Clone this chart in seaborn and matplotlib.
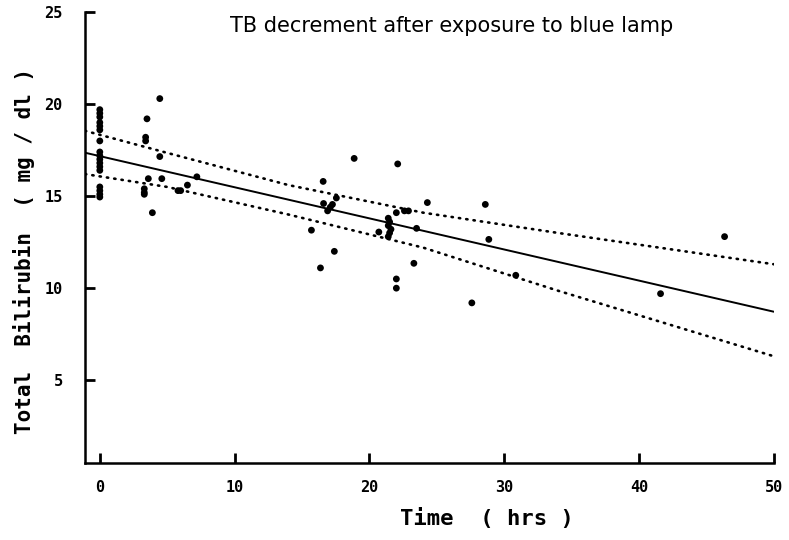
import pandas as pd
import matplotlib
matplotlib.use("Agg")
import matplotlib.pyplot as plt
import seaborn as sns

# points (time in hrs, TB in mg/dl)
time_hrs = [0, 0, 0, 0, 0, 0, 0, 0, 0, 0, 0, 0, 0, 0, 0, 0, 0,
            3.5, 3.4, 3.4, 3.6, 3.3, 3.3, 3.3, 3.9,
            4.45, 4.45, 4.6, 5.8, 6.0, 6.5, 7.2,
            15.7, 16.37, 16.57, 16.6, 16.9, 17.1, 17.26, 17.55, 17.4, 18.87,
            20.7, 21.4, 21.5, 21.4, 21.6, 21.5, 21.4,
            22.0, 22.1, 22.0, 22.0, 22.6, 22.9, 23.3, 23.5, 24.3,
            27.6, 28.6, 28.86, 30.86, 41.6, 46.35]
tb = [19.7, 19.5, 19.3, 19.0, 18.8, 18.6, 18.0, 17.4, 17.2, 17.0, 16.8, 16.6, 16.4, 15.5, 15.3, 15.1, 14.95,
      19.2, 18.2, 18.0, 15.95, 15.4, 15.2, 15.1, 14.1,
      20.3, 17.15, 15.95, 15.3, 15.3, 15.6, 16.05,
      13.15, 11.1, 15.8, 14.6, 14.2, 14.4, 14.55, 14.9, 12.0, 17.05,
      13.05, 13.8, 13.6, 13.4, 13.2, 13.0, 12.8,
      14.1, 16.75, 10.5, 10.0, 14.2, 14.2, 11.35, 13.25, 14.65,
      9.2, 14.55, 12.65, 10.7, 9.7, 12.8]

# regression line and its dotted confidence limits, as drawn in the figure
fit_x = [-1.1, 50]
fit_y = [17.36, 8.72]
band_x = [-1.1, 5, 14, 24, 34, 50]
band_upper = [18.55, 17.35, 15.6, 14.1, 13.0, 11.3]
band_lower = [16.2, 15.5, 14.0, 12.2, 9.86, 6.3]

x_ticks = [0, 10, 20, 30, 40, 50]
y_ticks = [5, 10, 15, 20, 25]

df = pd.DataFrame({"time": time_hrs, "tb": tb})
fit = pd.DataFrame({"time": fit_x, "tb": fit_y})
upper = pd.DataFrame({"time": band_x, "tb": band_upper})
lower = pd.DataFrame({"time": band_x, "tb": band_lower})

sns.set_style("ticks")
plt.rcParams["font.family"] = ["DejaVu Sans"]
plt.rcParams["text.color"] = "black"
plt.rcParams["axes.labelcolor"] = "black"
plt.rcParams["xtick.color"] = "black"
plt.rcParams["ytick.color"] = "black"

fig = plt.figure(figsize=(7.89, 5.40), dpi=100)
ax = fig.add_axes([0.1077, 0.1426, 0.873, 0.835])

sns.scatterplot(data=df, x="time", y="tb", ax=ax, color="black", s=24,
                edgecolor="none", zorder=3)
sns.lineplot(data=fit, x="time", y="tb", ax=ax, color="black", linewidth=1.4)
for band in (upper, lower):
    sns.lineplot(data=band, x="time", y="tb", ax=ax, color="black",
                 linewidth=1.9, linestyle=(0, (0.5, 2.3)),
                 dash_capstyle="round")

ax.set_xlim(-1.1, 50)
ax.set_ylim(0.5, 25)
ax.set_xticks(x_ticks)
ax.set_yticks(y_ticks)
sns.despine(ax=ax)
for s in ("left", "bottom"):
    ax.spines[s].set_linewidth(1.8)
    ax.spines[s].set_color("black")

ax.tick_params(axis="both", direction="in", length=7, width=2, color="black")
ax.tick_params(axis="x", pad=12)
ax.tick_params(axis="y", pad=16)
for lab in ax.get_xticklabels() + ax.get_yticklabels():
    lab.set_family("DejaVu Sans Mono")
    lab.set_fontweight("bold")
    lab.set_fontsize(11)

ax.set_xlabel("Time  ( hrs )", family="DejaVu Sans Mono", fontweight="bold",
              fontsize=16)
ax.xaxis.set_label_coords(0.583, -0.1)
ax.set_ylabel("Total  Bilirubin  ( mg / dl )", family="DejaVu Sans Mono",
              fontweight="bold", fontsize=15)
ax.yaxis.set_label_coords(-0.072, 0.47)

fig.text(452 / 789, 1 - 26 / 540, "TB decrement after exposure to blue lamp",
         ha="center", va="center", fontsize=15)

fig.savefig("out.png", dpi=100)
